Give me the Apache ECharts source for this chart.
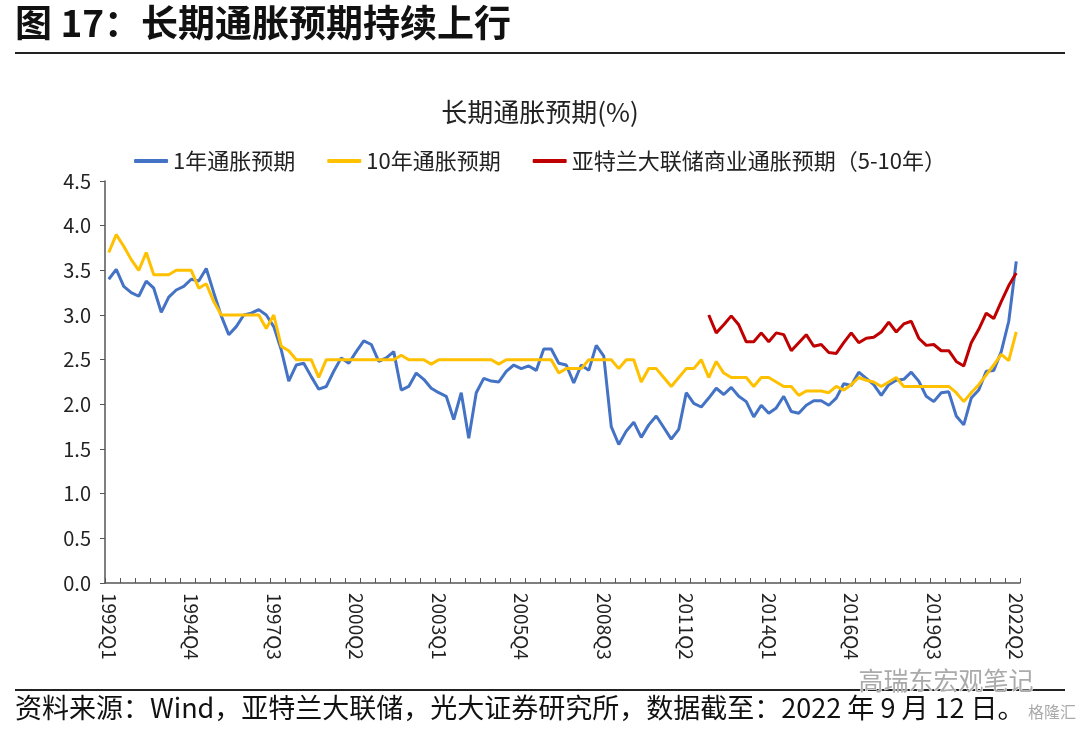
<!DOCTYPE html>
<html>
<head>
<meta charset="utf-8">
<script src="https://cdn.jsdelivr.net/npm/echarts@6/dist/echarts.min.js"></script>
<style>
html,body{margin:0;padding:0;background:#fff;}
#c{width:1080px;height:731px;}
</style>
</head>
<body>
<div id="c"></div>
<script>
// Quarters 1992Q1 .. 2022Q2
const startYear = 1992, endYear = 2022, endQuarter = 2;
const categories = [];
for (let y = startYear; y <= endYear; y++) {
  for (let q = 1; q <= 4; q++) {
    if (y === endYear && q > endQuarter) break;
    categories.push(y + 'Q' + q);
  }
}

const seriesNames = ['1年通胀预期', '10年通胀预期', '亚特兰大联储商业通胀预期（5-10年）'];

const oneYear = [
  3.40,3.51,3.32,3.25,3.21,3.38,3.30,3.03,3.20,3.28,3.32,3.40,3.38,3.52,3.25,2.99,
  2.78,2.87,3.00,3.02,3.06,3.00,2.87,2.61,2.26,2.44,2.46,2.31,2.17,2.20,2.37,2.52,
  2.46,2.59,2.71,2.67,2.48,2.52,2.59,2.16,2.20,2.35,2.28,2.18,2.13,2.09,1.83,2.13,
  1.62,2.13,2.29,2.26,2.25,2.37,2.44,2.40,2.43,2.38,2.62,2.62,2.46,2.44,2.24,2.44,
  2.38,2.66,2.54,1.75,1.55,1.70,1.80,1.63,1.77,1.87,1.74,1.61,1.72,2.13,2.01,1.97,
  2.07,2.18,2.11,2.19,2.09,2.03,1.86,1.99,1.90,1.96,2.09,1.92,1.90,1.99,2.04,2.04,
  1.99,2.07,2.23,2.21,2.36,2.29,2.22,2.10,2.22,2.27,2.28,2.36,2.26,2.09,2.03,2.13,
  2.14,1.87,1.77,2.07,2.16,2.37,2.38,2.59,2.93,3.60
];

const tenYear = [
  3.70,3.90,3.77,3.62,3.50,3.70,3.45,3.45,3.45,3.50,3.50,3.50,3.30,3.35,3.15,3.00,
  3.00,3.00,3.00,3.00,3.00,2.85,3.00,2.65,2.60,2.50,2.50,2.50,2.30,2.50,2.50,2.50,
  2.50,2.50,2.50,2.50,2.50,2.50,2.50,2.55,2.50,2.50,2.50,2.45,2.50,2.50,2.50,2.50,
  2.50,2.50,2.50,2.50,2.45,2.50,2.50,2.50,2.50,2.50,2.50,2.50,2.35,2.40,2.40,2.40,
  2.50,2.50,2.50,2.50,2.40,2.50,2.50,2.25,2.40,2.40,2.30,2.20,2.30,2.40,2.40,2.50,
  2.30,2.48,2.35,2.30,2.30,2.30,2.20,2.30,2.30,2.25,2.20,2.20,2.10,2.15,2.15,2.15,
  2.13,2.20,2.16,2.22,2.30,2.27,2.25,2.20,2.25,2.30,2.20,2.20,2.20,2.20,2.20,2.20,
  2.20,2.13,2.03,2.13,2.22,2.33,2.44,2.56,2.49,2.81
];

// Atlanta Fed business inflation expectations, starting 2012Q1
const atlantaStart = '2012Q1';
const atlantaValues = [
  3.00,2.80,2.89,2.99,2.89,2.70,2.70,2.80,2.70,2.80,2.78,2.60,2.69,2.78,2.65,2.67,
  2.58,2.57,2.69,2.80,2.69,2.74,2.75,2.81,2.92,2.81,2.90,2.93,2.74,2.66,2.67,2.60,
  2.60,2.48,2.43,2.69,2.84,3.02,2.96,3.15,3.33,3.47
];

const yTicks = { min: 0, max: 4.5, interval: 0.5 };

const atlantaIdx = categories.indexOf(atlantaStart);
const atlanta = categories.map((c, i) => (i >= atlantaIdx ? atlantaValues[i - atlantaIdx] : null));

const colors = ['#4472C4', '#FFC000', '#C00000'];
const FONT = '"Noto Sans CJK SC", "Noto Sans", sans-serif';

const chart = echarts.init(document.getElementById('c'), null, { renderer: 'canvas' });

const mkLine = (name, data, color) => ({
  name, type: 'line', data, symbol: 'none', smooth: false, connectNulls: false,
  lineStyle: { color, width: 3 }, itemStyle: { color }
});

chart.setOption({
  animation: false,
  backgroundColor: '#fff',
  textStyle: { fontFamily: FONT },
  title: {
    text: '长期通胀预期(%)',
    left: 'center', top: 94,
    textStyle: { fontFamily: FONT, fontSize: 26, fontWeight: 'normal', color: '#222' }
  },
  legend: {
    top: 145, left: 'center',
    itemWidth: 34, itemHeight: 4, itemGap: 32, icon: 'roundRect',
    textStyle: { fontFamily: FONT, fontSize: 22, color: '#222' },
    data: seriesNames
  },
  grid: { left: 105, right: 60, top: 181, bottom: 148, containLabel: false },
  xAxis: {
    type: 'category', data: categories, boundaryGap: true,
    axisLine: { lineStyle: { color: '#555', width: 1.5 } },
    axisTick: { show: true, inside: true, length: 5, interval: 1, lineStyle: { color: '#555' } },
    axisLabel: { interval: 10, rotate: -90, margin: 10, fontSize: 19, color: '#222', fontFamily: FONT },
    splitLine: { show: false }
  },
  yAxis: {
    type: 'value', min: yTicks.min, max: yTicks.max, interval: yTicks.interval,
    axisLine: { show: true, lineStyle: { color: '#555', width: 1.5 } },
    axisTick: { show: true, inside: false, length: 5, lineStyle: { color: '#555' } },
    axisLabel: { fontSize: 20, color: '#222', margin: 14, fontFamily: FONT, formatter: v => v.toFixed(1) },
    splitLine: { show: false }
  },
  series: [
    mkLine(seriesNames[0], oneYear, colors[0]),
    mkLine(seriesNames[1], tenYear, colors[1]),
    mkLine(seriesNames[2], atlanta, colors[2])
  ],
  graphic: [
    { type: 'text', left: 15, top: 4, style: { text: '图 17：长期通胀预期持续上行', fontFamily: FONT, fontSize: 37, fontWeight: 'bold', fill: '#111' } },
    { type: 'rect', shape: { x: 15, y: 52, width: 1050, height: 2 }, style: { fill: '#222' } },
    { type: 'rect', shape: { x: 15, y: 689, width: 1050, height: 2 }, style: { fill: '#222' } },
    { type: 'text', left: 15, top: 694, style: { text: '资料来源：Wind，亚特兰大联储，光大证券研究所，数据截至：2022 年 9 月 12 日。', fontFamily: FONT, fontSize: 27, fill: '#111' } },
    { type: 'text', left: 858, top: 667, style: { text: '高瑞东宏观笔记', fontFamily: FONT, fontSize: 25, fill: '#aaa', stroke: '#fff', lineWidth: 1 } },
    { type: 'text', left: 1028, top: 704, style: { text: '格隆汇', fontFamily: FONT, fontSize: 16, fill: '#aaa' } }
  ]
});
</script>
</body>
</html>
